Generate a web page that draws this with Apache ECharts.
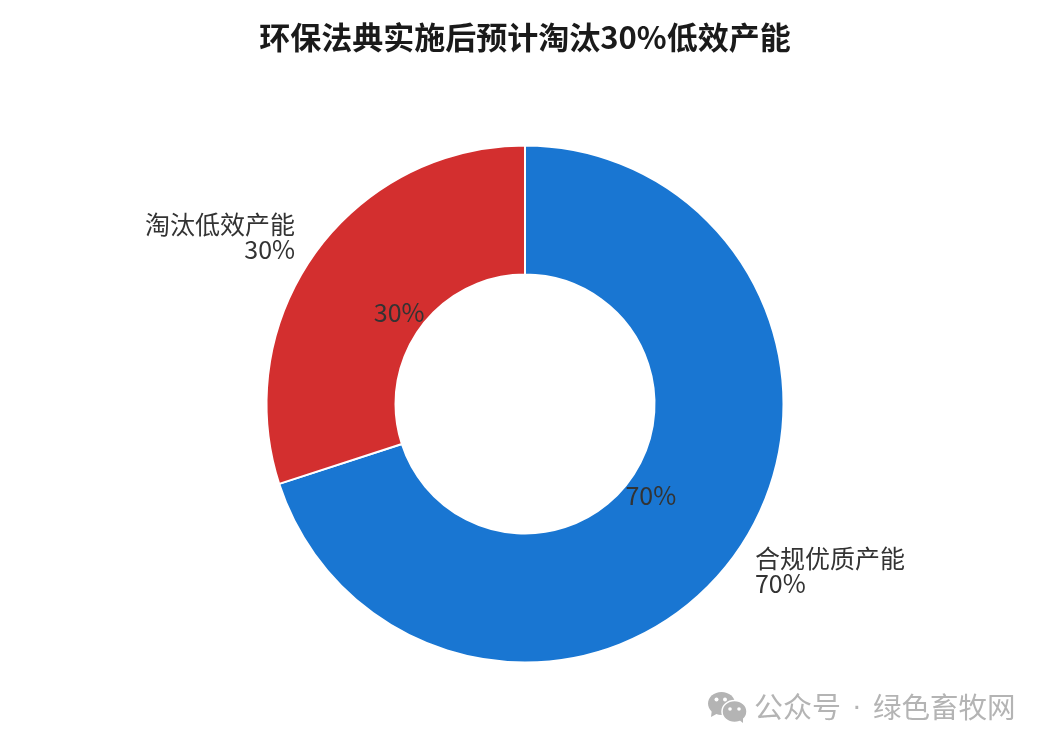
<!DOCTYPE html>
<html><head><meta charset="utf-8">
<style>html,body{margin:0;padding:0;background:#fff}#c{width:1050px;height:750px}</style>
<script src="https://cdn.jsdelivr.net/npm/echarts@6/dist/echarts.min.js"></script></head>
<body><div id="c"></div>
<script>
const titleText='环保法典实施后预计淘汰30%低效产能';
const categories=['合规优质产能','淘汰低效产能'];
const values=[70,30];
const colors=['#1976D2','#D32F2F'];
const wmLeft='公众号';
const wmDot='·';
const wmRight='绿色畜牧网';
const font='"Noto Sans CJK SC"';
const gray='#b4b4b4';
const chart=echarts.init(document.getElementById('c'),null,{renderer:'canvas'});
chart.setOption({
  animation:false,
  backgroundColor:'#fff',
  title:{text:titleText,left:'center',top:17,textStyle:{fontFamily:font,fontSize:31,fontWeight:'bold',color:'#1a1a1a'}},
  graphic:[
    {type:'text',left:754,top:692,style:{text:wmLeft,fontFamily:font,fontSize:29,fill:gray}},
    {type:'text',left:852,top:692,style:{text:wmDot,fontFamily:'"Liberation Sans"',fontSize:29,fill:gray}},
    {type:'text',left:873,top:693,style:{text:wmRight,fontFamily:font,fontSize:28.5,fill:gray}},
    {type:'group',silent:true,children:[
      {type:'polygon',shape:{points:[[712,709],[711,717],[720,712]]},style:{fill:gray}},
      {type:'ellipse',shape:{cx:721.5,cy:703.5,rx:13.5,ry:11.5},style:{fill:gray}},
      {type:'circle',shape:{cx:716.5,cy:699.5,r:2},style:{fill:'#fff'}},
      {type:'circle',shape:{cx:725,cy:699.5,r:2},style:{fill:'#fff'}},
      {type:'ellipse',shape:{cx:734.5,cy:711.5,rx:12.5,ry:11},style:{fill:gray,stroke:'#fff',lineWidth:1.5}},
      {type:'polygon',shape:{points:[[738,719],[743,723],[743,715]]},style:{fill:gray}},
      {type:'circle',shape:{cx:730,cy:709,r:1.8},style:{fill:'#fff'}},
      {type:'circle',shape:{cx:739,cy:709,r:1.8},style:{fill:'#fff'}}
    ]}
  ],
  series:[
   {type:'pie',center:[525,404],radius:[129.5,258.5],startAngle:90,clockwise:true,
    data:categories.map((n,i)=>({name:n,value:values[i],itemStyle:{color:colors[i]}})),
    itemStyle:{borderColor:'#fff',borderWidth:2},
    label:{show:true,position:'outside',formatter:'{b}\n{c}%',fontFamily:font,fontSize:25,lineHeight:25,color:'#333'},
    labelLine:{show:false,length:19.5,length2:0},
    labelLayout:p=>({dy:p.dataIndex===0?4:-4}),
    silent:true},
   {type:'pie',center:[525,404],radius:[130,175],startAngle:90,clockwise:true,
    data:categories.map((n,i)=>({name:n,value:values[i],itemStyle:{color:'transparent'}})),
    label:{show:true,position:'inside',formatter:'{c}%',fontFamily:font,fontSize:25,color:'#333'},
    labelLine:{show:false},silent:true}
  ]
});
</script></body></html>
